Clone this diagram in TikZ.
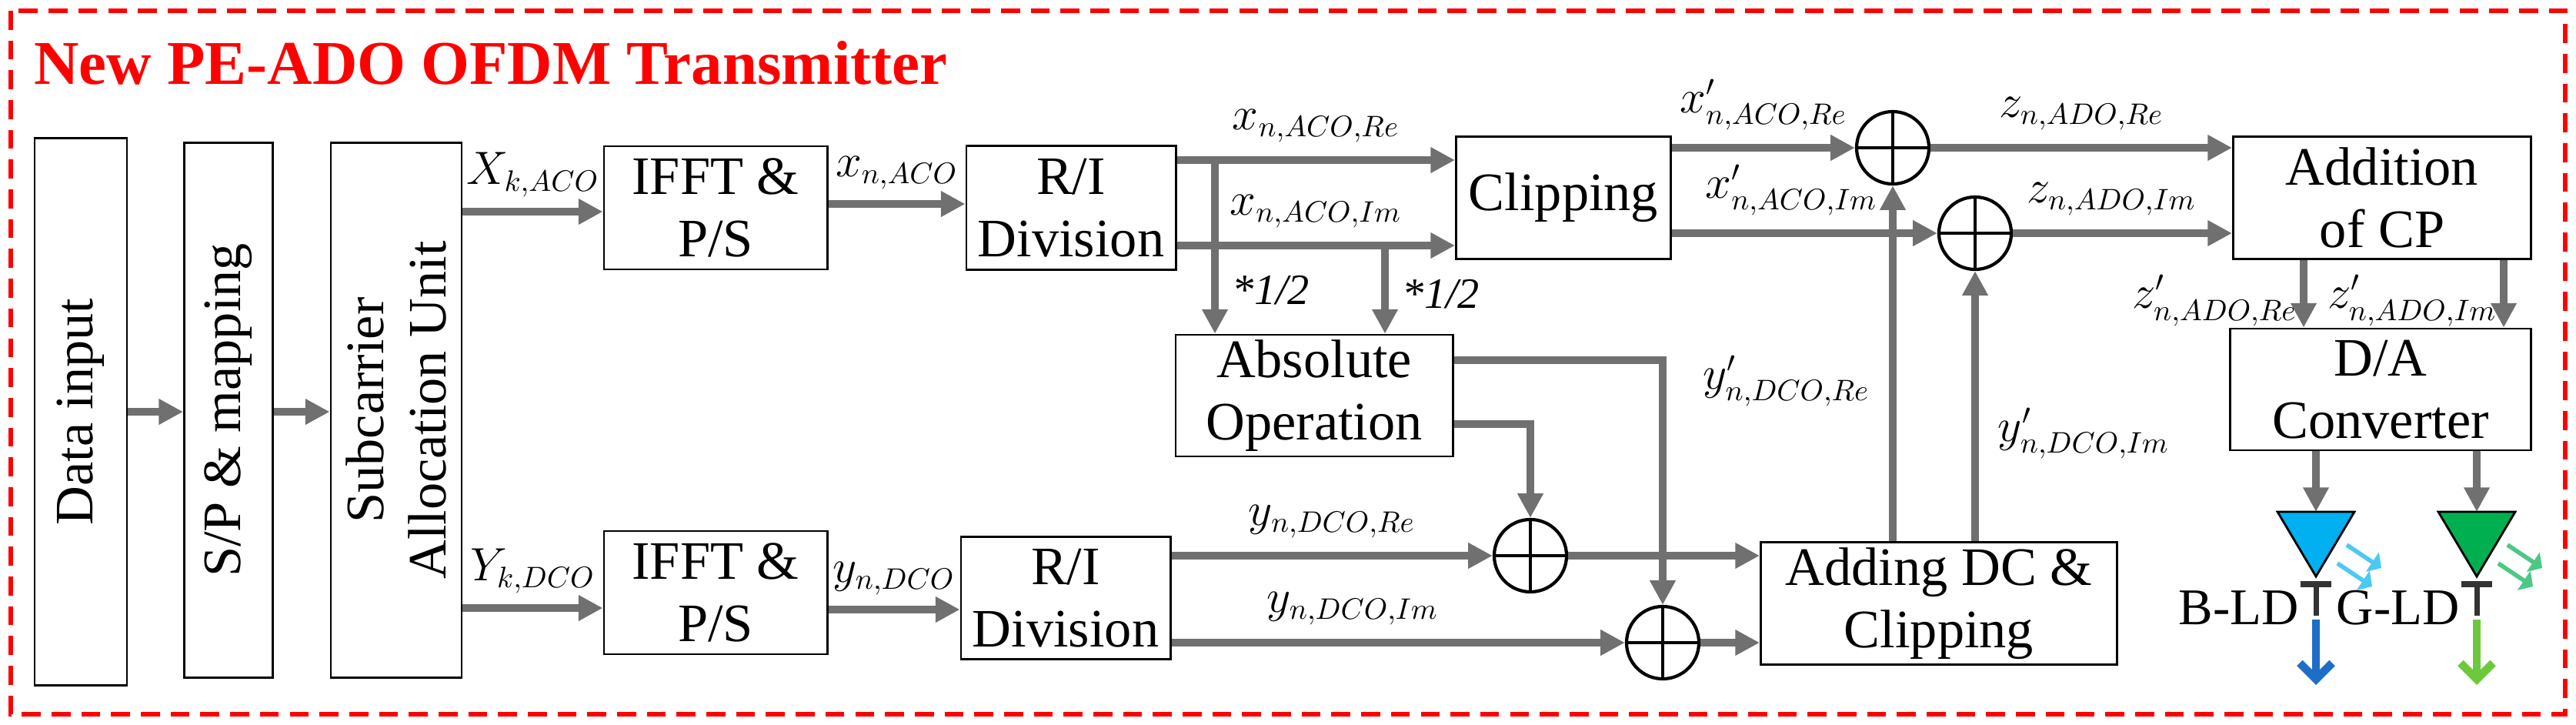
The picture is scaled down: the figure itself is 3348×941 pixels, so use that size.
\documentclass[tikz,border=0pt]{standalone}
\usepackage{fontspec}
\setmainfont{Liberation Serif}
\usetikzlibrary{arrows.meta, positioning}
\definecolor{flowgray}{RGB}{112,112,112}
\definecolor{ldblue}{RGB}{0,176,240}
\definecolor{ldgreen}{RGB}{0,176,80}
\definecolor{beamblue}{RGB}{30,110,200}
\definecolor{beamgreen}{RGB}{110,200,60}

\begin{document}
\begin{tikzpicture}[
		x=0.01cm, y=-0.01cm,
		block/.style={draw, thick, inner sep=0pt, align=center, font=\fontsize{20}{23}\selectfont},
		adder/.style={draw, very thick, circle, minimum size=0.94cm, inner sep=0pt, path picture={
			\draw[very thick] (path picture bounding box.north) -- (path picture bounding box.south);
			\draw[very thick] (path picture bounding box.west) -- (path picture bounding box.east);}},
		arrow/.style={-{Triangle[length=9pt, width=9pt]}, line width=3pt, flowgray},
		line/.style={line width=3pt, flowgray},
		lbl/.style={font=\fontsize{16}{18}\selectfont, text=black, inner sep=1pt}
	]
		\useasboundingbox (0,0) rectangle (3348,941);
		
		% Frame and title
		\draw[red, line width=1.6pt, dash pattern=on 7pt off 4pt] (14,14) rectangle (3334,928);
		\node[anchor=west, red, font=\fontsize{23}{25}\selectfont\bfseries] (title) at (32,82) {New PE-ADO OFDM Transmitter};
		
		% Blocks
		\node[block, minimum width=1.2cm, minimum height=7.1cm, label={[rotate=90, font=\fontsize{20}{23}\selectfont]center:Data input}] (data) at (105,535) {};
		\node[block, minimum width=1.15cm, minimum height=6.95cm, label={[rotate=90, font=\fontsize{20}{23}\selectfont]center:S/P \& mapping}] (sp) at (297,533) {};
		\node[block, minimum width=1.7cm, minimum height=6.95cm, label={[rotate=90, font=\fontsize{20}{23}\selectfont, align=center]center:Subcarrier\\Allocation Unit}] (sub) at (515,533) {};
		\node[block, minimum width=2.9cm, minimum height=1.6cm] (ifftA) at (930,270) {IFFT \&\\P/S};
		\node[block, minimum width=2.9cm, minimum height=1.6cm] (ifftD) at (930,770) {IFFT \&\\P/S};
		\node[block, minimum width=2.72cm, minimum height=1.61cm] (riA) at (1392,270) {R/I\\Division};
		\node[block, minimum width=2.72cm, minimum height=1.59cm] (riD) at (1385,777) {R/I\\Division};
		\node[block, minimum width=2.79cm, minimum height=1.59cm] (clip) at (2032,257) {Clipping};
		\node[block, minimum width=3.6cm, minimum height=1.58cm] (abs) at (1708,514) {Absolute\\Operation};
		\node[block, minimum width=4.63cm, minimum height=1.59cm] (dc) at (2520,784) {Adding DC \&\\Clipping};
		\node[block, minimum width=3.87cm, minimum height=1.59cm] (cp) at (3096,257) {Addition\\of CP};
		\node[block, minimum width=3.91cm, minimum height=1.58cm] (da) at (3094,506) {D/A\\Converter};
		
		% Adders
		\node[adder] (sumA) at (1989,722) {};
		\node[adder] (sumB) at (2161,835) {};
		\node[adder] (sumC) at (2460,192) {};
		\node[adder] (sumD) at (2567,303) {};
		
		% Branch points
		\coordinate (brRe) at (1579,208);
		\coordinate (brIm) at (1800,319);
		
		% Input stage
		\draw[arrow] (data.east |- 0,535) -- (sp.west |- 0,535);
		\draw[arrow] (sp.east |- 0,535) -- (sub.west |- 0,535);
		\draw[arrow] (sub.east |- 0,275) -- node[lbl, above=3pt] {$X_{k,ACO}$} (ifftA.west |- 0,275);
		\draw[arrow] (sub.east |- 0,790) -- node[lbl, above=3pt] {$Y_{k,DCO}$} (ifftD.west |- 0,790);
		\draw[arrow] (ifftA.east |- 0,265) -- node[lbl, above=3pt] {$x_{n,ACO}$} (riA.west |- 0,265);
		\draw[arrow] (ifftD.east |- 0,792) -- node[lbl, above=3pt] {$y_{n,DCO}$} (riD.west |- 0,792);
		
		% ACO branch
		\draw[arrow] (riA.east |- brRe) -- node[lbl, above=4pt] {$x_{n,ACO,Re}$} (clip.west |- brRe);
		\draw[arrow] (riA.east |- brIm) -- node[lbl, above=4pt] {$x_{n,ACO,Im}$} (clip.west |- brIm);
		\draw[arrow] (brRe) -- node[lbl, right=4pt, pos=0.75] {\textit{*1/2}} (brRe |- abs.north);
		\draw[arrow] (brIm) -- node[lbl, right=4pt, pos=0.55] {\textit{*1/2}} (brIm |- abs.north);
		\draw[arrow] (clip.east |- sumC) -- node[lbl, above=4pt] {$x'_{n,ACO,Re}$} (sumC.west);
		\draw[arrow] (clip.east |- sumD) -- node[lbl, above=4pt, pos=0.45] {$x'_{n,ACO,Im}$} (sumD.west);
		
		% DCO branch
		\draw[arrow] (riD.east |- sumA) -- node[lbl, above=4pt] {$y_{n,DCO,Re}$} (sumA.west);
		\draw[arrow] (riD.east |- sumB) -- node[lbl, above=4pt, pos=0.4] {$y_{n,DCO,Im}$} (sumB.west);
		\draw[line] (abs.east |- 0,551) -| (sumA.center |- 0,600);
		\draw[arrow] (sumA.center |- 0,595) -- (sumA.north);
		\draw[line] (abs.east |- 0,468) -| (sumB.center |- 0,700);
		\draw[arrow] (sumB.center |- 0,695) -- (sumB.north);
		\draw[arrow] (sumA.east) -- (dc.west |- sumA);
		\draw[arrow] (sumB.east) -- (dc.west |- sumB);
		\draw[arrow] (dc.north -| sumC) -- node[lbl, left=6pt, pos=0.45] {$y'_{n,DCO,Re}$} (sumC.south);
		\draw[arrow] (dc.north -| sumD) -- node[lbl, right=6pt, pos=0.4] {$y'_{n,DCO,Im}$} (sumD.south);
		
		% Output stage
		\draw[arrow] (sumC.east) -- node[lbl, above=4pt] {$z_{n,ADO,Re}$} (cp.west |- sumC);
		\draw[arrow] (sumD.east) -- node[lbl, above=4pt, pos=0.45] {$z_{n,ADO,Im}$} (cp.west |- sumD);
		\draw[arrow] (cp.south -| 2994,0) -- node[lbl, left=0pt, pos=0.6] {$z'_{n,ADO,Re}$} (da.north -| 2994,0);
		\draw[arrow] (cp.south -| 3254,0) -- node[lbl, left=0pt, pos=0.6] {$z'_{n,ADO,Im}$} (da.north -| 3254,0);
		
		% Laser diodes
		\foreach \ldx/\fillc/\beamc/\name/\ldtext in {3010/ldblue/beamblue/bld/B-LD, 3219/ldgreen/beamgreen/gld/G-LD} {
			\coordinate (\name) at (\ldx,665);
			\draw[arrow] (da.south -| \name) -- (\name);
			\draw[thick, fill=\fillc] (\name) ++(-50,0) -- ++(100,0) -- ++(-50,84) -- cycle;
			\draw[line width=2.5pt, black!80] (\ldx-20,759) -- (\ldx+20,759);
			\draw[line width=2pt, black!80] (\ldx,759) -- (\ldx,800);
			\draw[-{Straight Barb[length=6pt]}, line width=3pt, \beamc] (\ldx,805) -- (\ldx,890);
			\draw[-{Triangle[length=4pt]}, line width=1.6pt, \fillc!70] (\ldx+40,708) -- (\ldx+85,738);
			\draw[-{Triangle[length=4pt]}, line width=1.6pt, \fillc!70] (\ldx+28,732) -- (\ldx+73,762);
			\node[font=\fontsize{19}{22}\selectfont, anchor=east, inner sep=0pt] at (\ldx-22,790) {\ldtext};
		}
		
	\end{tikzpicture}
\end{document}
